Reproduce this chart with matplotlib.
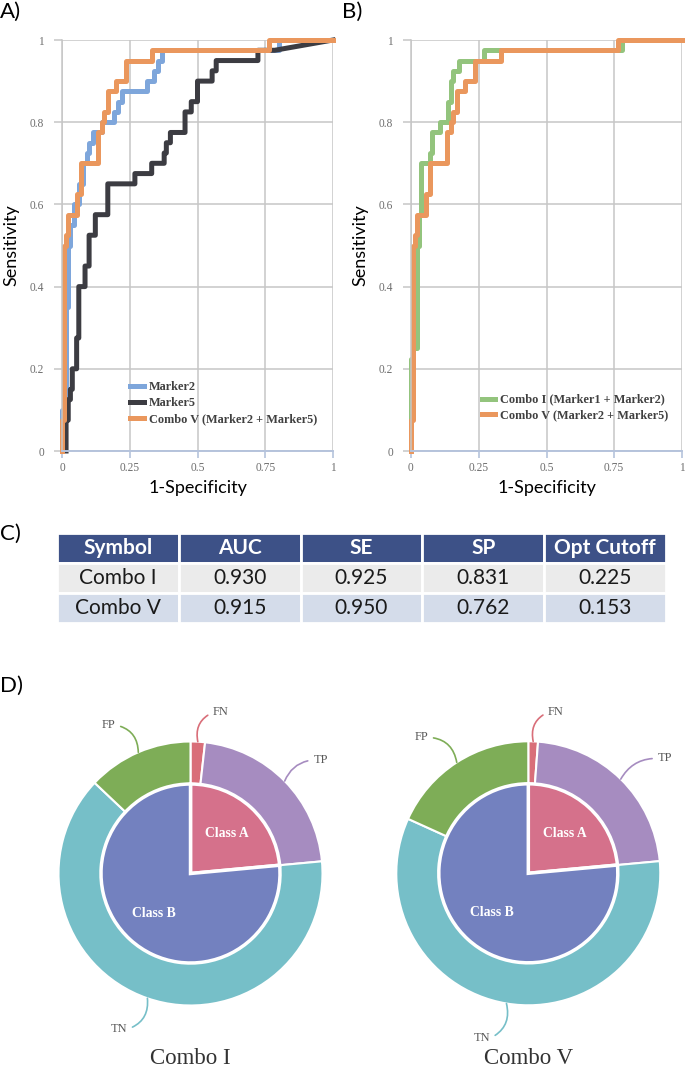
import numpy as np
import matplotlib
matplotlib.use("Agg")
import matplotlib.pyplot as plt

# ---- ROC data (corner points: fpr, tpr) ----
m2_fpr = [0, 0, 0.015, 0.023, 0.031, 0.046, 0.062, 0.077, 0.092, 0.1, 0.115, 0.146,
          0.192, 0.208, 0.223, 0.315, 0.338, 0.354, 0.369, 0.8, 1]
m2_tpr = [0, 0.1, 0.35, 0.5, 0.55, 0.6, 0.65, 0.7, 0.725, 0.75, 0.775, 0.8,
          0.825, 0.85, 0.875, 0.9, 0.925, 0.95, 0.975, 1.0, 1]

m5_fpr = [0.015, 0.015, 0.023, 0.031, 0.038, 0.054, 0.062, 0.085, 0.1, 0.123, 0.169,
          0.269, 0.331, 0.377, 0.385, 0.4, 0.454, 0.477, 0.5, 0.554, 0.569, 0.723, 0.785]
m5_tpr = [0, 0.075, 0.125, 0.15, 0.2, 0.275, 0.4, 0.45, 0.525, 0.575, 0.65,
          0.675, 0.7, 0.725, 0.75, 0.775, 0.825, 0.85, 0.9, 0.925, 0.95, 0.975, 0.975]

combo5_fpr = [0, 0, 0.008, 0.015, 0.023, 0.054, 0.069, 0.131, 0.146, 0.154, 0.169,
              0.2, 0.238, 0.331, 0.762, 1]
combo5_tpr = [0, 0.075, 0.5, 0.525, 0.575, 0.625, 0.7, 0.775, 0.8, 0.825, 0.875,
              0.9, 0.95, 0.975, 1.0, 1]

combo1_fpr = [0, 0, 0.008, 0.023, 0.031, 0.038, 0.069, 0.077, 0.108, 0.138, 0.146,
              0.154, 0.177, 0.269, 0.777, 1]
combo1_tpr = [0, 0.225, 0.25, 0.5, 0.575, 0.7, 0.725, 0.775, 0.8, 0.85, 0.9,
              0.925, 0.95, 0.975, 1.0, 1]

x_ticks = [0, 0.25, 0.5, 0.75, 1]
x_tick_labels = ["0", "0.25", "0.5", "0.75", "1"]
y_ticks = [0, 0.2, 0.4, 0.6, 0.8, 1]
y_tick_labels = ["0", "0.2", "0.4", "0.6", "0.8", "1"]

# ---- table ----
table_cols = ["Symbol", "AUC", "SE", "SP", "Opt Cutoff"]
symbols = ["Combo I", "Combo V"]
auc = [0.930, 0.915]
se = [0.925, 0.950]
sp = [0.831, 0.762]
cutoff = [0.225, 0.153]

# ---- confusion counts (40 class A, 130 class B) ----
class_labels = ["Class A", "Class B"]
class_counts = [40, 130]
outer_labels = ["FN", "TP", "TN", "FP"]
combo1_outer = [3, 37, 108, 22]
combo5_outer = [2, 38, 99, 31]

W, H = 685, 1067
fig = plt.figure(figsize=(W / 100, H / 100), dpi=100)


def px_axes(left, top, right, bottom):
    return fig.add_axes([left / W, 1 - bottom / H, (right - left) / W, (bottom - top) / H])


def staircase(fpr, tpr):
    xs, ys = [fpr[0]], [tpr[0]]
    for x, y in zip(fpr[1:], tpr[1:]):
        xs += [x, x]
        ys += [ys[-1], y]
    return xs, ys


SERIF = "Liberation Serif"
SANS = "Lato"
GRID = "#C6C6C6"


def style_roc(ax):
    ax.set_xlim(0, 1)
    ax.set_ylim(0, 1)
    ax.set_xticks(x_ticks)
    ax.set_xticklabels(x_tick_labels)
    ax.set_yticks(y_ticks)
    ax.set_yticklabels(y_tick_labels)
    ax.grid(True, color=GRID, lw=1.1)
    ax.set_axisbelow(True)
    for s in ["top", "right"]:
        ax.spines[s].set_visible(False)
    ax.spines["left"].set_color(GRID)
    ax.spines["left"].set_linewidth(1.1)
    ax.spines["bottom"].set_color("#B5C3DC")
    ax.spines["bottom"].set_linewidth(1.4)
    ax.tick_params(axis="x", length=5, color="#B5C3DC", width=1.2, pad=3)
    ax.tick_params(axis="y", length=6, color=GRID, width=1.1, pad=7)
    for lab in ax.get_xticklabels() + ax.get_yticklabels():
        lab.set_fontfamily(SERIF)
        lab.set_fontsize(8.3)
        lab.set_color("#6E6E6E")
    ax.set_xlabel("1-Specificity", fontfamily=SANS, fontsize=13, va="center")
    ax.set_ylabel("Sensitivity", fontfamily=SANS, fontsize=13, va="center")
    ax.xaxis.set_label_coords(0.5, -0.09)
    ax.yaxis.set_label_coords(-0.185, 0.5)


LW = 3.6
legend_kw = dict(frameon=False, prop=dict(family=SERIF, weight="bold", size=8.8),
                 labelcolor="#404040", handlelength=1.1, handletextpad=0.4,
                 labelspacing=0.3, borderpad=0.2)

axA = px_axes(62, 40, 333, 451)
xs, ys = staircase(m2_fpr, m2_tpr)
axA.plot(xs, ys, color="#7EA6DB", lw=LW, label="Marker2", clip_on=False)
xs, ys = staircase(m5_fpr, m5_tpr)
# tied scores at the end: joined straight to (1, 1)
axA.plot(xs + [1], ys + [1], color="#3C3C42", lw=LW, label="Marker5", clip_on=False)
xs, ys = staircase(combo5_fpr, combo5_tpr)
axA.plot(xs, ys, color="#EA975D", lw=LW, label="Combo V (Marker2 + Marker5)", clip_on=False)
style_roc(axA)
axA.legend(loc="upper left", bbox_to_anchor=(0.22, 0.19), **legend_kw)

axB = px_axes(411, 40, 682, 451)
xs, ys = staircase(combo1_fpr, combo1_tpr)
axB.plot(xs, ys, color="#93C47D", lw=LW, label="Combo I (Marker1 + Marker2)", clip_on=False)
xs, ys = staircase(combo5_fpr, combo5_tpr)
axB.plot(xs, ys, color="#EA975D", lw=LW, label="Combo V (Marker2 + Marker5)", clip_on=False)
style_roc(axB)
axB.legend(loc="upper left", bbox_to_anchor=(0.23, 0.16), **legend_kw)

for lbl, x, y in [("A)", 0, 2), ("B)", 342, 2), ("C)", 0, 524), ("D)", 0, 676)]:
    fig.text(x / W, 1 - y / H, lbl, fontfamily=SANS, fontsize=16, ha="left", va="top")

# ---- table (panel C) ----
axT = px_axes(57, 533, 666, 623)
axT.axis("off")
cell_text = [[s, f"{a:.3f}", f"{e:.3f}", f"{p:.3f}", f"{c:.3f}"]
             for s, a, e, p, c in zip(symbols, auc, se, sp, cutoff)]
tbl = axT.table(cellText=cell_text, colLabels=table_cols, cellLoc="center", bbox=[0, 0, 1, 1])
tbl.auto_set_font_size(False)
row_colors = ["#EBEBEB", "#D4DCEA"]
for (r, c), cell in tbl.get_celld().items():
    cell.set_edgecolor("white")
    cell.set_linewidth(2)
    txt = cell.get_text()
    txt.set_fontfamily(SANS)
    if r == 0:
        cell.set_facecolor("#3D5187")
        txt.set_color("white")
        txt.set_fontweight("bold")
        txt.set_fontsize(15)
    else:
        cell.set_facecolor(row_colors[r - 1])
        txt.set_color("#1A1A1A")
        txt.set_fontsize(15)

# ---- donut charts (panel D) ----
R = 132
inner_colors = ["#D5718B", "#7381BF"]
outer_colors = ["#D96E79", "#A68CC0", "#76BFC8", "#7EAD57"]


def donut(cx, cy, outer, title, label_pos, wx=1.28, down=1.5, up=1.35):
    ax = px_axes(cx - wx * R, cy - up * R, cx + wx * R, cy + down * R)
    wedges, _ = ax.pie(outer, radius=1, startangle=90, counterclock=False, colors=outer_colors,
                       wedgeprops=dict(width=0.34, edgecolor="white", linewidth=1.5))
    _, texts = ax.pie(class_counts, radius=0.678, startangle=90, counterclock=False,
                      colors=inner_colors, labels=class_labels, labeldistance=0.6,
                      wedgeprops=dict(edgecolor="white", linewidth=2.5),
                      textprops=dict(color="white", fontweight="bold", fontfamily=SERIF, fontsize=9.8))
    for t in texts:
        t.set_ha("center")
        t.set_va("center")
    for w, name, col in zip(wedges, outer_labels, outer_colors):
        tx, ty, ha, rad = label_pos[name]
        mid = np.deg2rad((w.theta1 + w.theta2) / 2)
        ax.annotate(name, xy=(np.cos(mid), np.sin(mid)), xytext=(tx, ty), ha=ha, va="center",
                    fontfamily=SERIF, fontsize=9, color="#595959",
                    arrowprops=dict(arrowstyle="-", color=col, lw=1.2, shrinkA=2, shrinkB=0,
                                    connectionstyle=f"arc3,rad={rad}",
                                    relpos=(0, 0.5) if ha == "left" else (1, 0.5)))
    ax.text(0, -1.4, title, ha="center", va="center", fontfamily=SERIF, fontsize=16.5, color="#333333")
    ax.set_xlim(-wx, wx)
    ax.set_ylim(-down, up)


donut(190.5, 873.5, combo1_outer, "Combo I",
      {"FN": (0.17, 1.22, "left", 0.4), "TP": (0.93, 0.86, "left", 0.3),
       "TN": (-0.48, -1.18, "right", 0.4), "FP": (-0.57, 1.125, "right", -0.4)})
donut(528.3, 873.3, combo5_outer, "Combo V",
      {"FN": (0.15, 1.22, "left", 0.4), "TP": (0.98, 0.87, "left", 0.3),
       "TN": (-0.29, -1.25, "right", 0.4), "FP": (-0.76, 1.03, "right", -0.4)})

fig.savefig("out.png", dpi=100)
